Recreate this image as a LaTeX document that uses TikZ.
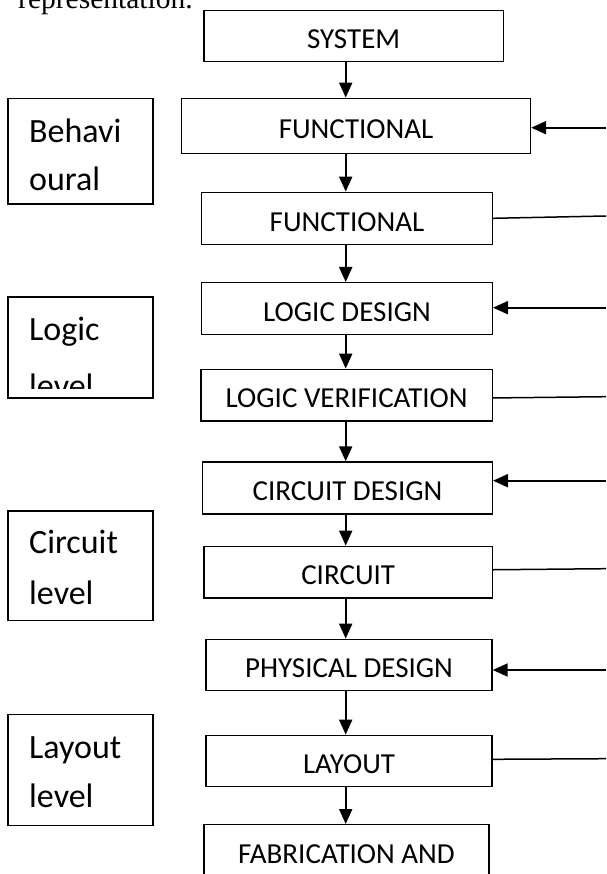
\documentclass[tikz,border=0pt]{standalone}
\usepackage{fontspec}
\newfontfamily\boxfont{Carlito}
\newfontfamily\repfont{Liberation Serif}
\usetikzlibrary{arrows.meta}
\begin{document}
\begin{tikzpicture}[x=1pt,y=-1pt,
  box/.style={draw, line width=1.4pt, inner sep=0pt, text height=25.6pt, text depth=0pt,
    font=\boxfont\fontsize{29}{34}\selectfont},
  lvlbox/.style={draw, line width=1.4pt, inner sep=0pt, minimum width=145pt},
  lvltext/.style={anchor=base west, inner sep=0pt, font=\boxfont\fontsize{34}{40}\selectfont},
  down/.style={line width=2pt, -{Triangle[length=15pt,width=13pt]}},
  feed/.style={line width=2pt, -{Triangle[length=15pt,width=13pt]}},
  plain/.style={line width=1.5pt}]
\useasboundingbox (0,0) rectangle (606,874);
\clip (0,0) rectangle (606,874);
\fill[white] (0,0) rectangle (606,874);

% top cut text
\node[anchor=base west, inner sep=0pt, font=\repfont\fontsize{29.5}{32}\selectfont] (rep) at (18,9) {representation.};

% main column
\node[box, minimum width=299.3pt, minimum height=51.4pt] (sys) at (353.65,36) {SYSTEM};
\node[box, minimum width=348.8pt, minimum height=55pt] (f1) at (356.1,125.8) {FUNCTIONAL};
\node[box, minimum width=290.6pt, minimum height=52pt] (f2) at (347,218.3) {FUNCTIONAL};
\node[box, minimum width=290.6pt, minimum height=51.6pt] (ld) at (347,308.5) {LOGIC DESIGN};
\node[box, minimum width=291.3pt, minimum height=51.7pt] (lv) at (346.65,395.15) {LOGIC VERIFICATION};
\node[box, minimum width=289.6pt, minimum height=52pt] (cd) at (347.5,488) {CIRCUIT DESIGN};
\node[box, minimum width=288.3pt, minimum height=51.7pt] (ci) at (348.15,572.15) {CIRCUIT};
\node[box, minimum width=286pt, minimum height=51.4pt] (pd) at (349,665) {PHYSICAL DESIGN};
\node[box, minimum width=286pt, minimum height=51.2pt] (la) at (349,760.9) {LAYOUT};
\node[box, minimum width=285pt, minimum height=52pt] (fa) at (346.5,850.7) {FABRICATION AND};

% vertical arrows
\coordinate (ax) at (345.7,0);
\draw[down] (sys.south -| ax) -- (f1.north -| ax);
\draw[down] (f1.south -| ax) -- (f2.north -| ax);
\draw[down] (f2.south -| ax) -- (ld.north -| ax);
\draw[down] (ld.south -| ax) -- (lv.north -| ax);
\draw[down] (lv.south -| ax) -- (cd.north -| ax);
\draw[down] (cd.south -| ax) -- (ci.north -| ax);
\draw[down] (ci.south -| ax) -- (pd.north -| ax);
\draw[down] (pd.south -| ax) -- (la.north -| ax);
\draw[down] (la.south -| ax) -- (fa.north -| ax);

% right side feedback arrows
\coordinate (r1) at (606,127.7);
\coordinate (r2) at (606,307.7);
\coordinate (r3) at (606,480.7);
\coordinate (r4) at (606,670);
\draw[feed] (r1) -- (r1 -| f1.east);
\draw[feed] (r2) -- (r2 -| ld.east);
\draw[feed] (r3) -- (r3 -| cd.east);
\draw[feed] (r4) -- (r4 -| pd.east);

% right side plain lines
\coordinate (e1) at (606,216);
\coordinate (e2) at (606,396.7);
\coordinate (e3) at (606,568.7);
\coordinate (e4) at (606,758.7);
\draw[plain] (f2.east) -- (e1);
\draw[plain] ([yshift=-2.8pt]lv.east) -- (e2);
\draw[plain] ([yshift=2.4pt]ci.east) -- (e3);
\draw[plain] ([yshift=1.6pt]la.east) -- (e4);

% left level boxes
\node[lvlbox, minimum height=105.7pt] (beh) at (80.5,151.15) {};
\node[lvltext] (beh1) at (29,143) {Behavi};
\node[lvltext] (beh2) at (29,191) {oural};

\node[lvlbox, minimum height=101pt] (lgl) at (80.5,347.5) {};
\node[lvltext] (lgl1) at (29,340) {Logic};
\begin{scope}
\clip (8,297) rectangle (153,388);
\node[lvltext] (lgl2) at (29,397) {level};
\end{scope}

\node[lvlbox, minimum height=109.7pt] (cil) at (80.5,565.85) {};
\node[lvltext] (cil1) at (29,553.7) {Circuit};
\node[lvltext] (cil2) at (29,604.7) {level};

\node[lvlbox, minimum height=111pt] (lal) at (80.5,769.8) {};
\node[lvltext] (lal1) at (29,758) {Layout};
\node[lvltext] (lal2) at (29,807) {level};
\end{tikzpicture}
\end{document}
